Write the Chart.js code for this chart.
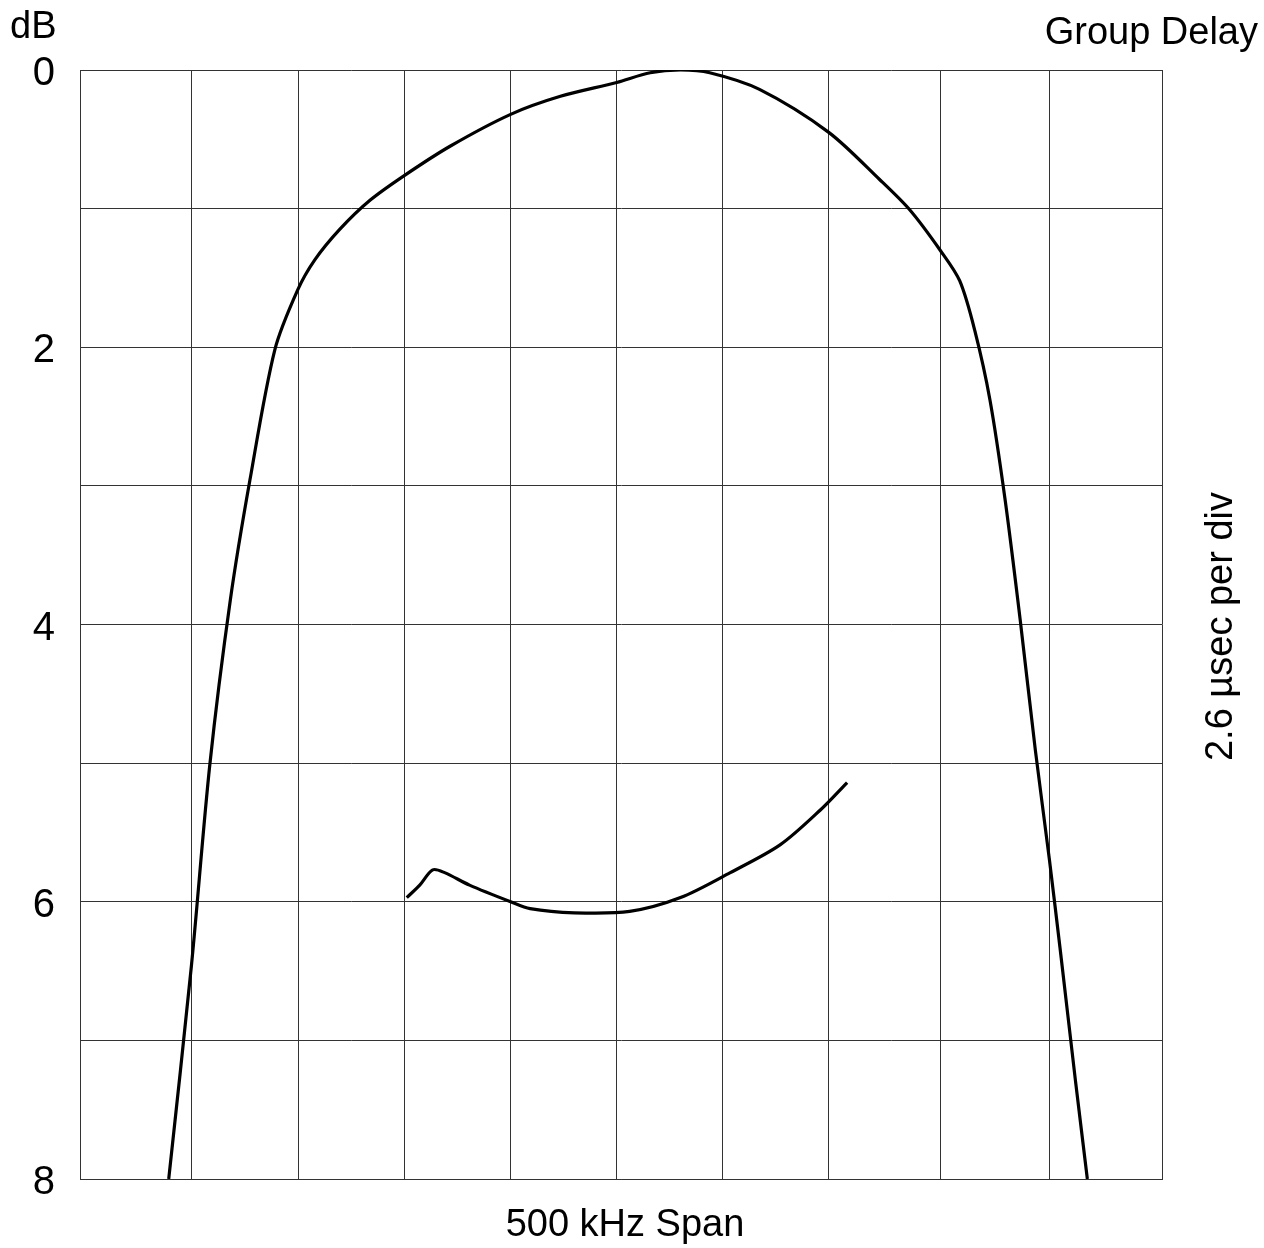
<!DOCTYPE html>
<html>
<head>
<meta charset="utf-8">
<script src="https://cdn.jsdelivr.net/npm/chart.js@4/dist/chart.umd.min.js"></script>
<style>
  html, body { margin: 0; padding: 0; background: #fff; }
  #wrap { width: 1264px; height: 1248px; }
</style>
</head>
<body>
<div id="wrap"><canvas id="chart"></canvas></div>
<script>
// Данные (x — деления по горизонтали 0..10, y — дБ)
const responseX = [0.82, 1.03, 1.2, 1.39, 1.57, 1.8, 2.01, 2.17, 2.4, 2.68, 3.0, 3.42, 3.98, 4.44, 4.96, 5.27, 5.55, 5.82, 6.28, 6.92, 7.39, 7.67, 7.95, 8.13, 8.27, 8.41, 8.55, 8.69, 8.83, 8.96, 9.06, 9.2, 9.31];
const responseY = [8.0, 6.46, 5.01, 3.82, 2.96, 2.02, 1.59, 1.37, 1.15, 0.94, 0.76, 0.55, 0.32, 0.19, 0.09, 0.02, 0.0, 0.02, 0.14, 0.45, 0.79, 1.01, 1.3, 1.52, 1.88, 2.38, 3.1, 3.97, 4.91, 5.7, 6.35, 7.29, 8.0];

const delayX = [3.02, 3.14, 3.26, 3.37, 3.6, 3.98, 4.16, 4.57, 5.08, 5.55, 6.01, 6.47, 6.84, 7.09];
const delayY = [5.97, 5.88, 5.77, 5.79, 5.88, 6.0, 6.05, 6.08, 6.07, 5.97, 5.79, 5.59, 5.34, 5.14];

// Вертикальные линии сетки (в оригинале расставлены чуть неравномерно)
const gridX = [0, 1.035, 2.015, 3.0, 3.98, 4.96, 5.94, 6.92, 7.95, 8.96, 10];
const yTickLabels = ['0', '2', '4', '6', '8'];

const FONT = '"Liberation Sans", Arial, sans-serif';

// Подписи вокруг области графика
const labelsPlugin = {
    id: 'labels',
    afterDraw(chart) {
        const ctx = chart.ctx;
        const a = chart.chartArea;
        ctx.save();
        ctx.fillStyle = '#000';
        ctx.font = '38px ' + FONT;
        ctx.textBaseline = 'middle';

        ctx.textAlign = 'left';
        ctx.fillText('dB', 10, 28);

        ctx.textAlign = 'right';
        ctx.fillText('Group Delay', 1258, 34);

        ctx.textAlign = 'center';
        ctx.fillText('500 kHz Span', (a.left + a.right) / 2 + 4, 1226);

        ctx.translate(1222, (a.top + a.bottom) / 2 + 2);
        ctx.rotate(-Math.PI / 2);
        ctx.fillText('2.6 µsec per div', 0, 0);
        ctx.restore();
    }
};

const toPoints = (xs, ys) => xs.map((x, i) => ({ x: x, y: ys[i] }));

new Chart(document.getElementById('chart'), {
    type: 'scatter',
    data: {
        datasets: [
            {
                data: toPoints(responseX, responseY),
                showLine: true,
                borderColor: '#000',
                borderWidth: 3.2,
                pointRadius: 0,
                tension: 0.3
            },
            {
                data: toPoints(delayX, delayY),
                showLine: true,
                borderColor: '#000',
                borderWidth: 3.2,
                pointRadius: 0,
                tension: 0.3
            }
        ]
    },
    options: {
        responsive: true,
        maintainAspectRatio: false,
        animation: false,
        layout: { padding: { top: 70, right: 102, bottom: 69, left: 0 } },
        scales: {
            x: {
                type: 'linear',
                min: 0,
                max: 10,
                afterBuildTicks(scale) { scale.ticks = gridX.map(v => ({ value: v })); },
                ticks: { display: false },
                grid: { color: '#333', lineWidth: 1, drawTicks: false },
                border: { color: '#333' }
            },
            y: {
                type: 'linear',
                reverse: true,
                min: 0,
                max: 8,
                afterFit(scale) { scale.width = 80; },
                ticks: {
                    stepSize: 1,
                    padding: 25,
                    labelOffset: 4,
                    color: '#000',
                    font: { size: 40, family: FONT },
                    callback: (v) => (v % 2 === 0 ? yTickLabels[v / 2] : '')
                },
                grid: { color: '#333', lineWidth: 1, drawTicks: false },
                border: { color: '#333' }
            }
        },
        plugins: {
            legend: { display: false },
            tooltip: { enabled: false }
        }
    },
    plugins: [labelsPlugin]
});
</script>
</body>
</html>
